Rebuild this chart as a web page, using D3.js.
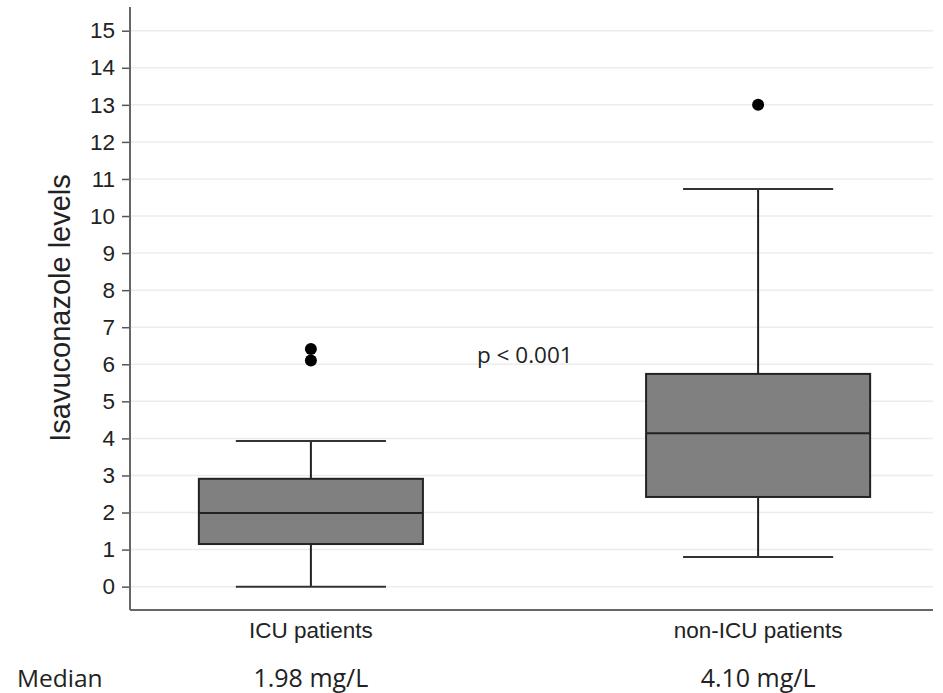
<!DOCTYPE html>
<html><head><meta charset="utf-8">
<script src="https://cdn.jsdelivr.net/npm/d3@7"></script>
<style>body{margin:0;background:#fff}</style>
</head><body>
<svg id="c" width="943" height="693"></svg>
<script>
const categories = ["ICU patients", "non-ICU patients"];
const medianLabels = ["1.98 mg/L", "4.10 mg/L"];
const lowerWhisker = [0.0, 0.80];
const q1 = [1.15, 2.42];
const median = [1.99, 4.14];
const q3 = [2.91, 5.74];
const upperWhisker = [3.93, 10.73];
const outliers = [[6.10, 6.41], [13.0]];
const yTicks = d3.range(0, 16);

(function () {
const svg = d3.select("#c");
const mLeft = 130, mRight = 933, mTop = 7, mBottom = 610;
const y = d3.scaleLinear().domain([-0.63, 15.64]).range([mBottom, mTop]);
const x = d3.scaleBand().domain(categories).range([mLeft, 939]).paddingInner(0.499).paddingOuter(0.154);

// gridlines
svg.append("g").selectAll("line").data(yTicks).join("line")
  .attr("x1", mLeft).attr("x2", mRight)
  .attr("y1", d => y(d)).attr("y2", d => y(d))
  .attr("stroke", "#ececec").attr("stroke-width", 1.5);

// y axis
const ya = svg.append("g").attr("transform", `translate(${mLeft},0)`)
  .call(d3.axisLeft(y).tickValues(yTicks).tickSize(8).tickPadding(7));
ya.select(".domain").remove();
ya.selectAll(".tick line").attr("stroke", "#555").attr("stroke-width", 1.5);
ya.selectAll(".tick text").attr("font-family", "Liberation Sans, Arial, sans-serif")
  .attr("font-size", 22.5).attr("fill", "#222");
svg.append("line").attr("x1", mLeft).attr("x2", mLeft).attr("y1", mTop).attr("y2", mBottom)
  .attr("stroke", "#666").attr("stroke-width", 2);
svg.append("line").attr("x1", mLeft).attr("x2", mRight).attr("y1", mBottom).attr("y2", mBottom)
  .attr("stroke", "#666").attr("stroke-width", 2);

// boxes
const g = svg.append("g");
categories.forEach((c, i) => {
  const cx = x(c) + x.bandwidth() / 2;
  const bw = x.bandwidth();
  const cap = bw * 0.67;
  const stroke = "#222";
  g.append("line").attr("x1", cx).attr("x2", cx).attr("y1", y(q3[i])).attr("y2", y(upperWhisker[i])).attr("stroke", stroke).attr("stroke-width", 2);
  g.append("line").attr("x1", cx).attr("x2", cx).attr("y1", y(q1[i])).attr("y2", y(lowerWhisker[i])).attr("stroke", stroke).attr("stroke-width", 2);
  g.append("line").attr("x1", cx - cap / 2).attr("x2", cx + cap / 2).attr("y1", y(upperWhisker[i])).attr("y2", y(upperWhisker[i])).attr("stroke", "#333").attr("stroke-width", 2);
  g.append("line").attr("x1", cx - cap / 2).attr("x2", cx + cap / 2).attr("y1", y(lowerWhisker[i])).attr("y2", y(lowerWhisker[i])).attr("stroke", "#333").attr("stroke-width", 2);
  g.append("rect").attr("x", x(c)).attr("width", bw).attr("y", y(q3[i])).attr("height", y(q1[i]) - y(q3[i]))
    .attr("fill", "#808080").attr("stroke", stroke).attr("stroke-width", 2);
  g.append("line").attr("x1", x(c)).attr("x2", x(c) + bw).attr("y1", y(median[i])).attr("y2", y(median[i])).attr("stroke", stroke).attr("stroke-width", 2);
  g.selectAll(null).data(outliers[i]).join("circle").attr("cx", cx).attr("cy", d => y(d)).attr("r", 6).attr("fill", "#000");
  svg.append("text").attr("x", cx).attr("y", 638).attr("text-anchor", "middle")
    .attr("font-family", "Liberation Sans, Arial, sans-serif").attr("font-size", 22.5).attr("fill", "#222")
    .text(c);
  svg.append("text").attr("x", cx).attr("y", 687).attr("text-anchor", "middle")
    .attr("font-family", "Open Sans, sans-serif").attr("font-size", 25).attr("fill", "#222").text(medianLabels[i]);
});

svg.append("text").attr("x", 17).attr("y", 687).attr("font-family", "Open Sans, sans-serif")
  .attr("font-size", 24.5).attr("fill", "#222").text("Median");
svg.append("text").attr("x", 477).attr("y", 363).attr("font-family", "Open Sans, sans-serif")
  .attr("font-size", 22.5).attr("fill", "#222").text("p < 0.001");
svg.append("text").attr("transform", "translate(70,308) rotate(-90)").attr("text-anchor", "middle")
  .attr("font-family", "Liberation Sans, Arial, sans-serif").attr("font-size", 29).attr("fill", "#222")
  .text("Isavuconazole levels");
})();
</script>
</body></html>
